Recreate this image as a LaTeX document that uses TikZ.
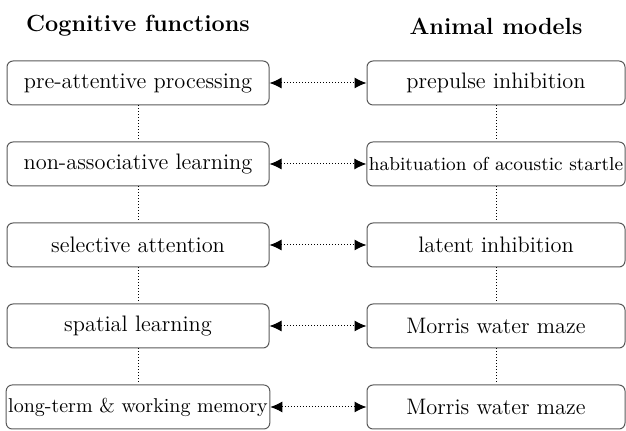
\documentclass[tikz,border=0pt]{standalone}
\usetikzlibrary{arrows.meta}
\newcommand\narrowtxt{\fontsize{9.4pt}{11pt}\selectfont}
\newcommand\pairrow[3]{%
\node[itembox,minimum width=131pt] (c#1) at (138,{2+81*#1}) {#2};
\node[itembox,minimum width=129pt] (m#1) at (496,{2+81*#1}) {#3};
\draw[link] (c#1) -- (m#1);}

\begin{document}
\begin{tikzpicture}[x=0.5pt,y=-0.5pt,
  itembox/.style={draw=black!65,line width=0.5pt,rounded corners=3pt,minimum height=22pt,inner xsep=1pt,font=\fontsize{11.2pt}{13pt}\selectfont},
  head/.style={font=\bfseries\fontsize{11.7pt}{14pt}\selectfont},
  link/.style={densely dotted,line width=0.5pt,{Latex[length=6pt,width=5.5pt]}-{Latex[length=6pt,width=5.5pt]}},
  vline/.style={densely dotted,line width=0.5pt}]
\useasboundingbox (0,0) rectangle (626,431);
\node[head] (lefthead) at (138,26) {Cognitive functions};
\node[head] (righthead) at (496,26) {Animal models};
\pairrow1{pre-attentive processing}{prepulse inhibition}
\pairrow2{non-associative learning}{\narrowtxt habituation of acoustic startle}
\pairrow3{selective attention}{latent inhibition}
\pairrow4{spatial learning}{Morris water maze}
\pairrow5{\fontsize{10pt}{12pt}\selectfont long-term \& working memory}{Morris water maze}
\foreach \i/\j in {1/2,2/3,3/4,4/5} {
  \draw[vline] (c\i) -- (c\j);
  \draw[vline] (m\i) -- (m\j);
}
\end{tikzpicture}
\end{document}
